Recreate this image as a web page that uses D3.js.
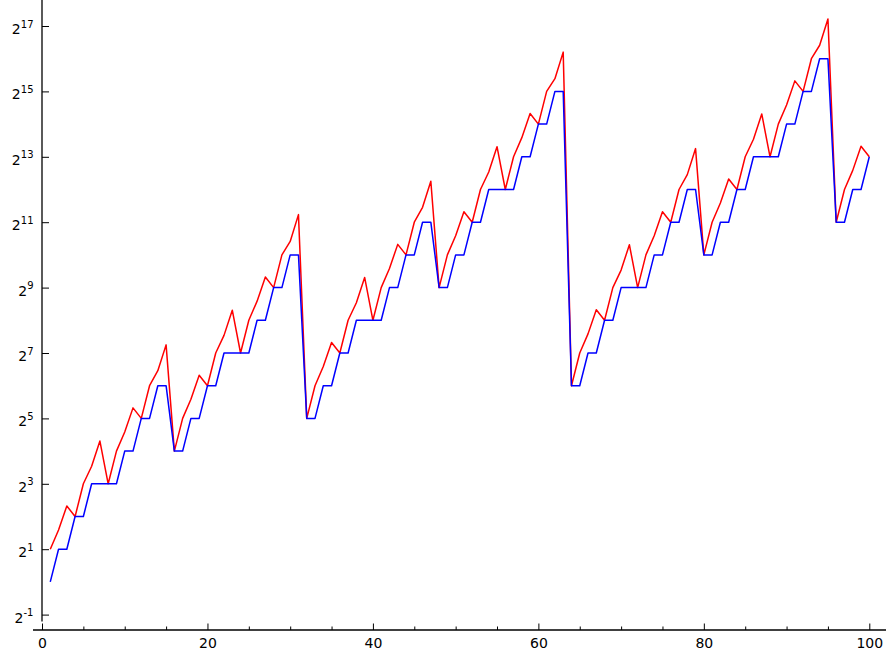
<!DOCTYPE html>
<html>
<head>
<meta charset="utf-8">
<script src="https://cdn.jsdelivr.net/npm/d3@7"></script>
<style>
body { margin: 0; background: #fff; }
text { font-family: "DejaVu Sans", sans-serif; fill: #000; }
</style>
</head>
<body>
<div id="chart"></div>
<script>
//////////////////////////////////////////////////////////////////////////////
// Data, one value per n = 1..100

var blueValues = [
    1, 2, 2, 4, 4, 8, 8, 8, 8, 16,
    16, 32, 32, 64, 64, 16, 16, 32, 32, 64,
    64, 128, 128, 128, 128, 256, 256, 512, 512, 1024,
    1024, 32, 32, 64, 64, 128, 128, 256, 256, 256,
    256, 512, 512, 1024, 1024, 2048, 2048, 512, 512, 1024,
    1024, 2048, 2048, 4096, 4096, 4096, 4096, 8192, 8192, 16384,
    16384, 32768, 32768, 64, 64, 128, 128, 256, 256, 512,
    512, 512, 512, 1024, 1024, 2048, 2048, 4096, 4096, 1024,
    1024, 2048, 2048, 4096, 4096, 8192, 8192, 8192, 8192, 16384,
    16384, 32768, 32768, 65536, 65536, 2048, 2048, 4096, 4096, 8192
];

var redValues = [
    2, 3, 5, 4, 8, 11.6, 19.8, 8, 16, 24,
    40, 32, 64, 88, 152, 16, 32, 48, 80, 64,
    128, 186, 317, 128, 256, 384, 640, 512, 1024, 1362,
    2406, 32, 64, 96, 160, 128, 256, 371, 635, 256,
    512, 768, 1280, 1024, 2048, 2806, 4874, 512, 1024, 1536,
    2560, 2048, 4096, 5939, 10158, 4096, 8192, 12288, 20480, 16384,
    32768, 42926, 75366, 64, 128, 192, 320, 256, 512, 742,
    1270, 512, 1024, 1536, 2560, 2048, 4096, 5612, 9748, 1024,
    2048, 3072, 5120, 4096, 8192, 11878, 20316, 8192, 16384, 24576,
    40960, 32768, 65536, 87163, 152000, 2048, 4096, 6144, 10240, 8192
];

var xTicks = [0, 20, 40, 60, 80, 100];
var xMinorTicks = [5, 10, 15, 25, 30, 35, 45, 50, 55, 65, 70, 75, 85, 90, 95];
var yTickExponents = [-1, 1, 3, 5, 7, 9, 11, 13, 15, 17];

//////////////////////////////////////////////////////////////////////////////
// Scales

var width = 886, height = 656;

var xScale = d3.scaleLinear().domain([0, 100]).range([42, 869.3]);
var yScale = d3.scaleLog().base(2).domain([0.5, 131072]).range([614.6, 26]);

var svg = d3.select("#chart")
    .append("svg")
    .attr("width", width)
    .attr("height", height);

//////////////////////////////////////////////////////////////////////////////
// Axes (matplotlib / sage look: ticks pointing inward, separate spines)

svg.append("line")
    .attr("x1", 42).attr("x2", 42)
    .attr("y1", 0).attr("y2", 621.5)
    .attr("stroke", "#000")
    .attr("stroke-width", 1.3);

svg.append("line")
    .attr("x1", 33).attr("x2", 886)
    .attr("y1", 630).attr("y2", 630)
    .attr("stroke", "#000")
    .attr("stroke-width", 1.3);

var yAxis = d3.axisLeft(yScale)
    .tickValues(yTickExponents.map(function(e) { return Math.pow(2, e); }))
    .tickSizeInner(-7)
    .tickSizeOuter(0)
    .tickPadding(8.5)
    .tickFormat("");

var gy = svg.append("g")
    .attr("transform", "translate(42,0)")
    .call(yAxis);
gy.select(".domain").remove();
gy.selectAll(".tick line").attr("stroke", "#000").attr("stroke-width", 1);

gy.selectAll(".tick text")
    .attr("dy", null)
    .attr("font-size", 14)
    .each(function(d) {
        var t = d3.select(this);
        var e = Math.round(Math.log2(d));
        t.append("tspan").attr("dy", 7.5).text("2");
        t.append("tspan")
            .attr("dy", -6.5)
            .attr("font-size", 10)
            .text(e < 0 ? "-" + (-e) : e);
    });

var xAxis = d3.axisBottom(xScale)
    .tickValues(xTicks)
    .tickSizeInner(-6.5)
    .tickSizeOuter(0)
    .tickPadding(8)
    .tickFormat(d3.format("d"));

var gx = svg.append("g")
    .attr("transform", "translate(0,630)")
    .call(xAxis);
gx.select(".domain").remove();
gx.selectAll(".tick line").attr("stroke", "#000").attr("stroke-width", 1);
gx.selectAll(".tick text")
    .attr("font-size", 14)
    .attr("font-family", "DejaVu Sans, sans-serif");

gx.selectAll(".minor")
    .data(xMinorTicks)
    .enter()
    .append("line")
    .attr("class", "minor")
    .attr("x1", function(d) { return xScale(d) + 0.5; })
    .attr("x2", function(d) { return xScale(d) + 0.5; })
    .attr("y1", 0)
    .attr("y2", -3.5)
    .attr("stroke", "#000")
    .attr("stroke-width", 1);

//////////////////////////////////////////////////////////////////////////////
// The two series

function seriesLine(values) {
    return d3.line()
        .x(function(d, i) { return xScale(i + 1); })
        .y(function(d) { return yScale(d); })(values);
}

svg.append("path")
    .attr("d", seriesLine(redValues))
    .attr("fill", "none")
    .attr("stroke", "#ff0000")
    .attr("stroke-width", 1.5)
    .attr("stroke-linejoin", "round");

svg.append("path")
    .attr("d", seriesLine(blueValues))
    .attr("fill", "none")
    .attr("stroke", "#0000ff")
    .attr("stroke-width", 1.5)
    .attr("stroke-linejoin", "round");
</script>
</body>
</html>
